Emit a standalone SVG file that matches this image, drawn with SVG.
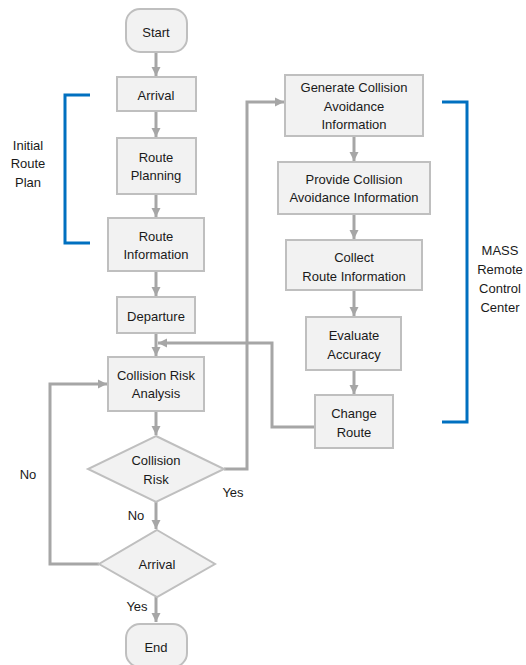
<svg xmlns="http://www.w3.org/2000/svg" width="526" height="665" viewBox="0 0 526 665">
<defs>
<marker id="ah" markerUnits="userSpaceOnUse" markerWidth="10" markerHeight="10" refX="9" refY="5" orient="auto">
<path d="M0,0.5 L9,5 L0,9.5 Z" fill="#A6A6A6"/>
</marker>
<style>
.box{fill:#F2F2F2;stroke:#BFBFBF;stroke-width:2}
.t{font-family:"Liberation Sans",Arial,sans-serif;font-size:13px;fill:#1a1a1a;text-anchor:middle}
.c{fill:none;stroke:#A6A6A6;stroke-width:3}
.a{marker-end:url(#ah)}
.br{fill:none;stroke:#0070C0;stroke-width:3}
</style>
</defs>
<rect width="526" height="665" fill="#fff"/>
<g id="connectors">
<path class="c a" d="M156,52 V76"/>
<path class="c a" d="M156,111 V137"/>
<path class="c a" d="M156,194 V217"/>
<path class="c a" d="M156,271 V296"/>
<path class="c a" d="M156,333 V356"/>
<path class="c a" d="M156,411 V435"/>
<path class="c a" d="M156,502 V529"/>
<path class="c a" d="M156,597 V622"/>
<path class="c a" d="M99,564 H50 V384 H107"/>
<path class="c a" d="M224,469 H247 V102 H284"/>
<path class="c a" d="M315,427 H272 V343 H158"/>
<path class="c a" d="M354,136 V161"/>
<path class="c a" d="M354,214 V239"/>
<path class="c a" d="M354,290 V316"/>
<path class="c a" d="M354,370 V394"/>
</g>
<g id="brackets">
<path class="br" d="M90,95 H65 V243 H90"/>
<path class="br" d="M442,102 H467 V422 H442"/>
</g>
<g id="start"><rect class="box" x="126" y="9" width="61" height="43" rx="14"/><text class="t" x="156" y="36.5">Start</text></g>
<g id="arrival1"><rect class="box" x="117" y="77" width="79" height="34"/><text class="t" x="156" y="99.5">Arrival</text></g>
<g id="routePlanning"><rect class="box" x="117" y="138" width="79" height="56"/><text class="t" x="156" y="161.5">Route</text><text class="t" x="156" y="179.5">Planning</text></g>
<g id="routeInformation"><rect class="box" x="108" y="218" width="96" height="53"/><text class="t" x="156" y="240.5">Route</text><text class="t" x="156" y="258.5">Information</text></g>
<g id="departure"><rect class="box" x="117" y="297" width="78" height="36"/><text class="t" x="156" y="320.5">Departure</text></g>
<g id="collisionRiskAnalysis"><rect class="box" x="108" y="357" width="96" height="54"/><text class="t" x="156" y="379.5">Collision Risk</text><text class="t" x="156" y="397.5">Analysis</text></g>
<g id="collisionRisk"><path class="box" d="M156,436 L224,469 L156,502 L88,469 Z"/><text class="t" x="156" y="464.5">Collision</text><text class="t" x="156" y="483.5">Risk</text></g>
<g id="arrival2"><path class="box" d="M157,530 L215,564 L157,597 L99,564 Z"/><text class="t" x="157" y="568.5">Arrival</text></g>
<g id="end"><rect class="box" x="126" y="624" width="61" height="43" rx="14"/><text class="t" x="156" y="651.5">End</text></g>
<g id="generate"><rect class="box" x="285" y="75" width="138" height="61"/><text class="t" x="354" y="91.5">Generate Collision</text><text class="t" x="354" y="110.5">Avoidance</text><text class="t" x="354" y="128.5">Information</text></g>
<g id="provide"><rect class="box" x="278" y="162" width="152" height="52"/><text class="t" x="354" y="183.5">Provide Collision</text><text class="t" x="354" y="201.5">Avoidance Information</text></g>
<g id="collect"><rect class="box" x="286" y="240" width="136" height="50"/><text class="t" x="354" y="261.5">Collect</text><text class="t" x="354" y="280.5">Route Information</text></g>
<g id="evaluate"><rect class="box" x="306" y="317" width="95" height="53"/><text class="t" x="354" y="339.5">Evaluate</text><text class="t" x="354" y="358.5">Accuracy</text></g>
<g id="changeRoute"><rect class="box" x="315" y="395" width="78" height="53"/><text class="t" x="354" y="417.5">Change</text><text class="t" x="354" y="436.5">Route</text></g>
<g id="labels">
<text class="t" x="28" y="149.5">Initial</text><text class="t" x="28" y="167.5">Route</text><text class="t" x="28" y="186.5">Plan</text>
<text class="t" x="500" y="254.5">MASS</text><text class="t" x="500" y="273.5">Remote</text><text class="t" x="500" y="292.5">Control</text><text class="t" x="500" y="311.5">Center</text>
<text class="t" x="28" y="478.5">No</text>
<text class="t" x="136" y="519.5">No</text>
<text class="t" x="233" y="496.5">Yes</text>
<text class="t" x="137" y="610.5">Yes</text>
</g>
</svg>
